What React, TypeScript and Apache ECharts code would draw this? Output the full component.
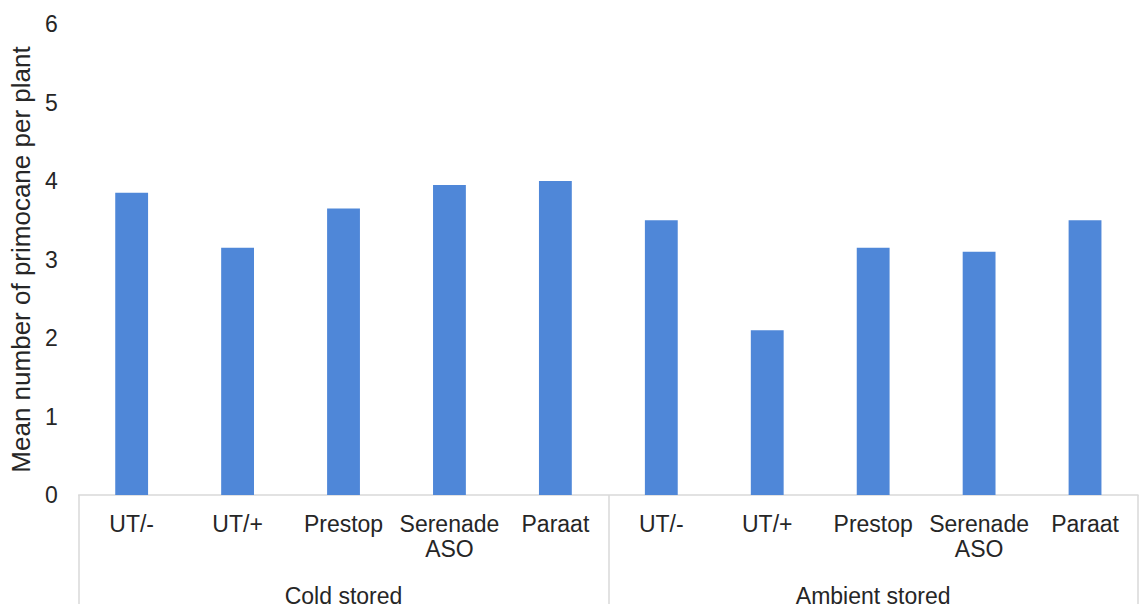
import React, { useEffect, useRef } from "react";
import * as echarts from "echarts";

const treatments = ["UT/-", "UT/+", "Prestop", "Serenade\nASO", "Paraat", "UT/-", "UT/+", "Prestop", "Serenade\nASO", "Paraat"];
const groups = ["Cold stored", "Ambient stored"];
const values = [3.85, 3.15, 3.65, 3.95, 4.0, 3.5, 2.1, 3.15, 3.1, 3.5];
const yTicks = [0, 1, 2, 3, 4, 5, 6];

export default function App() {
  const ref = useRef<HTMLDivElement>(null);
  useEffect(() => {
    const chart = echarts.init(ref.current!, null, { renderer: "svg" });
    const font = "Liberation Sans, Arial, sans-serif";
    chart.setOption({
      animation: false,
      backgroundColor: "#ffffff",
      grid: { left: 78, right: 2, top: 24, bottom: 109, containLabel: false },
      xAxis: [
        {
          type: "category",
          data: treatments,
          position: "bottom",
          axisLine: { show: true, lineStyle: { color: "#d9d9d9", width: 1.5 } },
          axisTick: { show: false },
          axisLabel: { interval: 0, color: "#262626", fontSize: 23, fontFamily: font, margin: 16, lineHeight: 25 },
        },
        {
          type: "category",
          data: groups,
          position: "bottom",
          boundaryGap: true,
          axisLine: { show: false },
          axisTick: { show: true, length: 109, interval: 0, lineStyle: { color: "#d9d9d9", width: 1.5 } },
          axisLabel: { interval: 0, color: "#262626", fontSize: 23, fontFamily: font, margin: 89 },
        },
      ],
      yAxis: {
        type: "value",
        min: yTicks[0],
        max: yTicks[yTicks.length - 1],
        interval: 1,
        name: "Mean number of primocane per plant",
        nameLocation: "middle",
        nameGap: 43,
        nameTextStyle: { color: "#262626", fontSize: 26, fontFamily: font },
        axisLine: { show: false },
        axisTick: { show: false },
        splitLine: { show: false },
        axisLabel: { color: "#262626", fontSize: 23, fontFamily: font, margin: 21 },
      },
      series: [
        {
          type: "bar",
          xAxisIndex: 0,
          data: values,
          barWidth: "31%",
          itemStyle: { color: "#4f87d8" },
        },
      ],
    });
    return () => chart.dispose();
  }, []);
  return (
    <div
      ref={ref}
      style={{ position: "fixed", left: 0, top: 0, width: 1140, height: 607, overflow: "hidden" }}
    />
  );
}
